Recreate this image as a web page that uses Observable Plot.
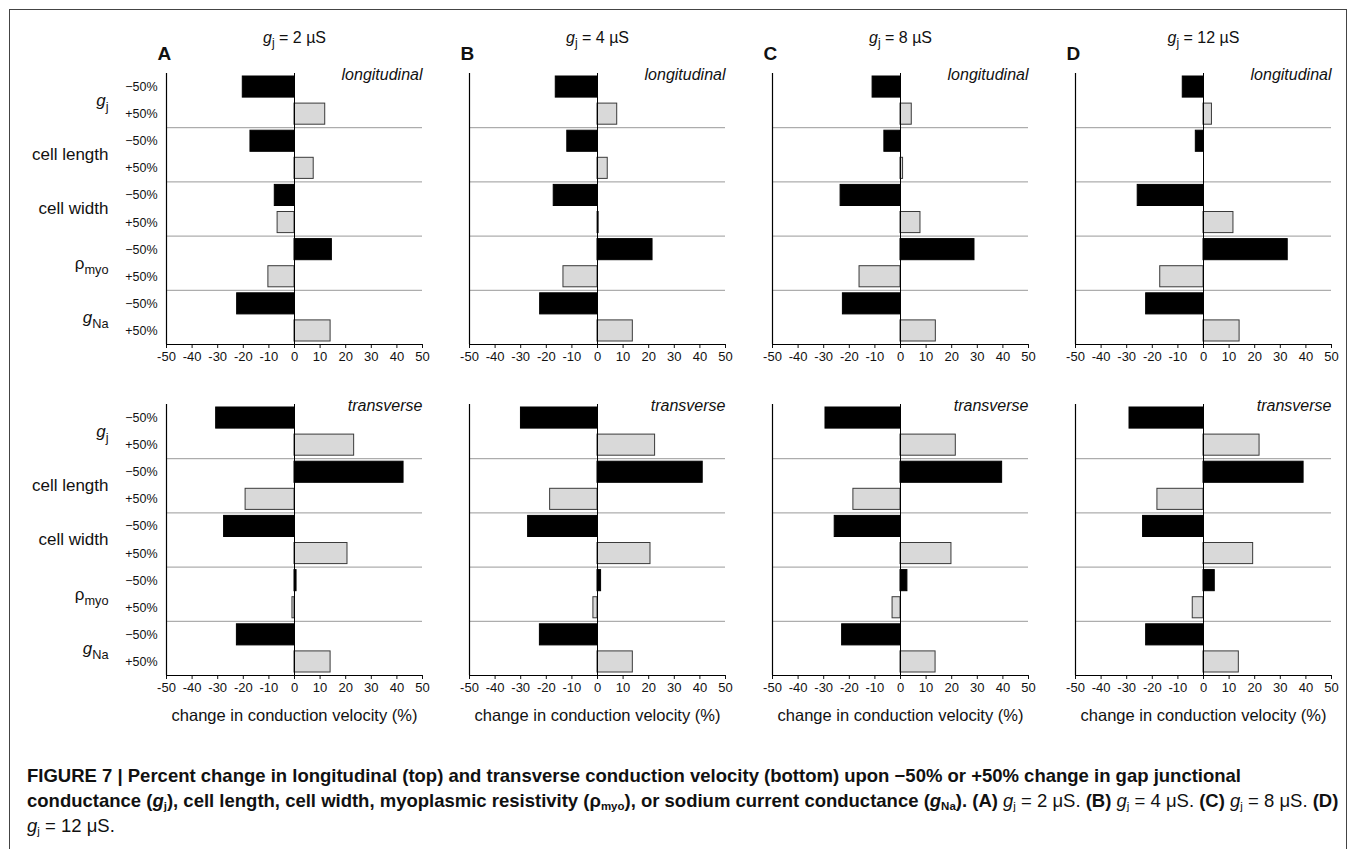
<!DOCTYPE html>
<html><head><meta charset="utf-8">
<script src="https://cdn.jsdelivr.net/npm/d3@7"></script>
<script src="https://cdn.jsdelivr.net/npm/@observablehq/plot@0.6"></script>
<style>
html,body{margin:0;padding:0;background:#fff;overflow:hidden;}
#fig{position:relative;width:1355px;height:849px;font-family:"Liberation Sans",Arial,Helvetica,sans-serif;color:#111;}
#frame{position:absolute;left:9px;top:9px;width:1338px;height:900px;border:1px solid #444;box-sizing:border-box;}
.panel{position:absolute;}
#caption{position:absolute;left:27px;top:763px;font-size:18.5px;line-height:25px;white-space:nowrap;}
#caption sub{font-size:62%;vertical-align:-0.25em;line-height:0;}
</style></head>
<body><div id="fig"><div id="frame"></div>
<div id="caption"><b>FIGURE 7 | Percent change in longitudinal (top) and transverse conduction velocity (bottom) upon −50% or +50% change in gap junctional</b><br><b>conductance (<i>g</i><sub>j</sub>), cell length, cell width, myoplasmic resistivity (ρ<sub>myo</sub>), or sodium current conductance (<i>g</i><sub>Na</sub>). (A)</b> <i>g</i><sub>j</sub> = 2 μS. <b>(B)</b> <i>g</i><sub>j</sub> = 4 μS. <b>(C)</b> <i>g</i><sub>j</sub> = 8 μS. <b>(D)</b><br><i>g</i><sub>j</sub> = 12 μS.</div>
</div>
<script>
// ---- data ----
const parameters = ["{g}[j]", "cell length", "cell width", "ρ[myo]", "{g}[Na]"];
const changes = ["−50%", "+50%"];
const columnTitles = ["{g}[j] = 2 µS", "{g}[j] = 4 µS", "{g}[j] = 8 µS", "{g}[j] = 12 µS"];
const panelLetters = ["A", "B", "C", "D"];
const directions = ["longitudinal", "transverse"];
const xTicks = [-50, -40, -30, -20, -10, 0, 10, 20, 30, 40, 50];
const xAxisLabel = "change in conduction velocity (%)";

// order: gj -50, gj +50, length -50, length +50, width -50, width +50, rho -50, rho +50, gNa -50, gNa +50
const longitudinalA = [-20.2, 12.0, -17.2, 7.5, -7.7, -6.6, 14.6, -10.2, -22.4, 14.1];
const longitudinalB = [-16.3, 7.7, -11.8, 4.0, -17.1, 0.5, 21.5, -13.3, -22.4, 13.8];
const longitudinalC = [-10.9, 4.4, -6.3, 1.0, -23.4, 7.8, 28.9, -16.0, -22.5, 13.8];
const longitudinalD = [-8.1, 3.3, -3.0, 0.0, -25.7, 11.7, 32.9, -16.9, -22.4, 14.1];
const transverseA = [-30.6, 23.3, 42.6, -19.1, -27.5, 20.7, 0.8, -0.8, -22.5, 14.1];
const transverseB = [-29.9, 22.5, 41.1, -18.5, -27.1, 20.7, 1.4, -1.6, -22.5, 13.8];
const transverseC = [-29.3, 21.6, 39.7, -18.4, -25.7, 19.9, 2.7, -3.1, -22.8, 13.7];
const transverseD = [-28.9, 21.9, 39.1, -18.0, -23.6, 19.4, 4.4, -4.2, -22.4, 13.8];

const values = [
  [longitudinalA, longitudinalB, longitudinalC, longitudinalD],
  [transverseA, transverseB, transverseC, transverseD]
];

function rows(vals) {
  return vals.map((v, i) => ({row: i, parameter: parameters[Math.floor(i / 2)], change: changes[i % 2], value: v}));
}

// ---- layout ----
const axisLeft = [166, 469, 772, 1075];
const axisTop = [73, 404];
const innerW = 256, innerH = 271;
const FONT = '"Liberation Sans", Arial, Helvetica, sans-serif';

function richText(svg) {
  svg.querySelectorAll("text").forEach(t => {
    const s = t.textContent;
    if (!/[{\[]/.test(s)) return;
    const fs = parseFloat(getComputedStyle(t).fontSize) || 16;
    const shift = fs * 0.3;
    const parts = [...s.matchAll(/\{([^}]*)\}|\[([^\]]*)\]|([^{\[]+)/g)];
    t.textContent = "";
    let shifted = false;
    for (const m of parts) {
      const ts = document.createElementNS("http://www.w3.org/2000/svg", "tspan");
      if (m[2] !== undefined) {
        ts.textContent = m[2];
        ts.setAttribute("font-size", (fs * 0.75).toFixed(2));
        ts.setAttribute("font-style", "normal");
        ts.setAttribute("dy", shift.toFixed(2));
        shifted = true;
      } else {
        ts.textContent = m[1] !== undefined ? m[1] : m[3];
        if (m[1] !== undefined) ts.setAttribute("font-style", "italic");
        if (shifted) { ts.setAttribute("dy", (-shift).toFixed(2)); shifted = false; }
      }
      t.appendChild(ts);
    }
  });
}

const fig = document.getElementById("fig");

for (let r = 0; r < 2; r++) {
  for (let c = 0; c < 4; c++) {
    const data = rows(values[r][c]);
    const first = c === 0;
    const ml = first ? 150 : 20, mr = 24;
    const mt = r === 0 ? 63 : 20, mb = r === 0 ? 30 : 56;
    const marks = [
      Plot.ruleY(parameters.slice(1).map((p, i) => 2 * (i + 1)), {stroke: "#999", strokeWidth: 1}),
      Plot.rectX(data, {
        x1: () => 0, x2: "value", y1: "row", y2: d => d.row + 1,
        insetTop: 3, insetBottom: 3,
        fill: d => d.change === changes[0] ? "#000" : "#d9d9d9",
        stroke: d => d.change === changes[0] ? "#000" : "#3a3a3a",
        strokeWidth: 1
      }),
      Plot.ruleX([0], {stroke: "#000", strokeWidth: 1}),
      Plot.ruleX([-50], {stroke: "#000", strokeWidth: 1.2}),
      Plot.ruleY([10], {stroke: "#000", strokeWidth: 1.2}),
      Plot.text([directions[r]], {text: d => d, frameAnchor: "top-right", textAnchor: "end", lineAnchor: "middle", dy: 1, fontSize: 16, fontStyle: "italic"})
    ];
    if (r === 0) {
      marks.push(
        Plot.text([columnTitles[c]], {text: d => d, frameAnchor: "top", lineAnchor: "middle", dy: -36, fontSize: 16}),
        Plot.text([panelLetters[c]], {text: d => d, frameAnchor: "top-left", textAnchor: "start", lineAnchor: "middle", dx: -9, dy: -20, fontSize: 19, fontWeight: "bold"})
      );
    }
    if (first) {
      marks.push(
        Plot.text(data, {frameAnchor: "left", y: d => d.row + 0.5, text: "change", textAnchor: "end", dx: -9, fontSize: 12.5}),
        Plot.text(parameters, {frameAnchor: "left", y: (d, i) => 2 * i + 1, text: d => d, textAnchor: "end", dx: -58, fontSize: 17})
      );
    }
    if (r === 1) {
      marks.push(Plot.text([xAxisLabel], {text: d => d, frameAnchor: "bottom", lineAnchor: "middle", dy: 40, fontSize: 16.5}));
    }
    const svg = Plot.plot({
      width: ml + innerW + mr,
      height: mt + innerH + mb,
      marginLeft: ml, marginRight: mr, marginTop: mt, marginBottom: mb,
      style: {fontFamily: FONT, fontSize: "13px", color: "#111", background: "transparent", overflow: "visible"},
      x: {domain: [-50, 50], ticks: xTicks, tickFormat: d => String(d), tickSize: 4, tickPadding: 3, label: null},
      y: {domain: [10, 0], axis: null},
      marks
    });
    svg.classList.add("panel");
    svg.style.left = (axisLeft[c] - ml) + "px";
    svg.style.top = (axisTop[r] - mt) + "px";
    svg.style.position = "absolute";
    fig.appendChild(svg);
    richText(svg);
  }
}
</script>
</body></html>
